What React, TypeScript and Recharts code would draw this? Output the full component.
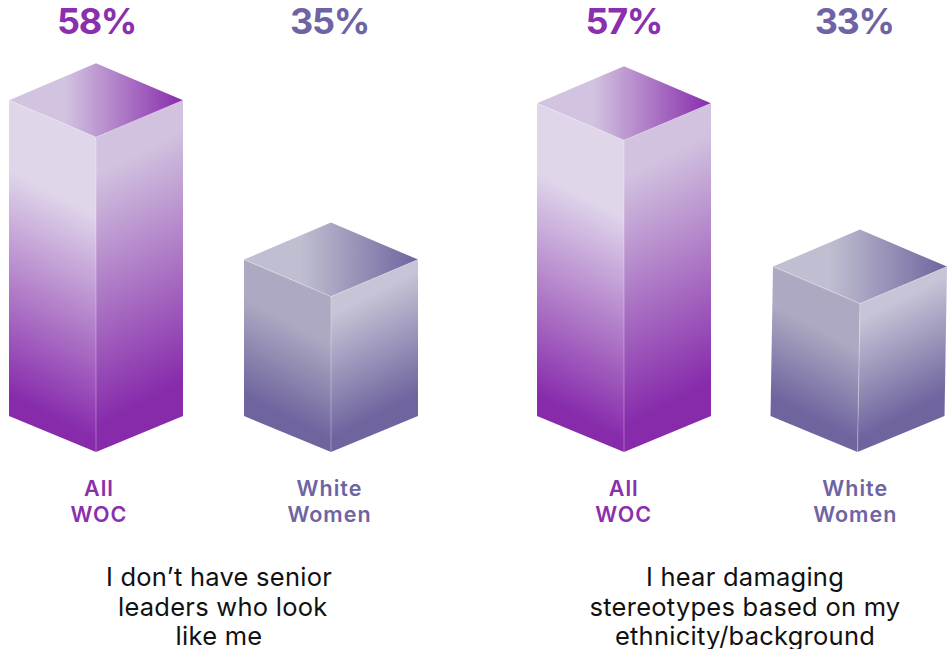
import { Bar, BarChart, XAxis, YAxis } from "recharts";

const categories = ["All\nWOC", "White\nWomen"];
const seniorLeaderValues = [58, 35];
const stereotypeValues = [57, 33];
const seniorLeaderCaption = ["I don’t have senior", "\u00a0leaders who look", "like me"];
const stereotypeCaption = ["I hear damaging", "stereotypes based on my", "ethnicity/background"];

// the source axis does not start at zero, these are fitted to the bar heights
const seniorLeaderDomain = [12.56, 70.59];
const stereotypeDomain = [11.2, 70.26];

const FONT = "Inter, sans-serif";
const RISE = 37;

const palette = [
  { text: "#8a2fae", top: "#d2c4e0", left: "#dfd6ea", right: "#d1c2df", deep: "#872bab", leftStart: 0.22, leftEnd: 0.94 },
  { text: "#6e64a3", top: "#c0bfd1", left: "#ada9c2", right: "#c6c4d6", deep: "#6f649e", leftStart: 0.25, leftEnd: 0.88 },
];

// gradient running across a face, with iso-lines of the given slope
function FaceGradient({ id, x, y, drop, slope, from, to }: any) {
  const k = drop / (1 + slope * slope);
  return (
    <linearGradient
      id={id}
      gradientUnits="userSpaceOnUse"
      x1={x}
      y1={y}
      x2={x - slope * k}
      y2={y + k}
    >
      <stop offset="0%" stopColor={from} />
      <stop offset="100%" stopColor={to} />
    </linearGradient>
  );
}

function Block({ x, y, width, height, index, chartId, lean }: any) {
  const c = palette[index];
  const id = `${chartId}-${index}`;
  const mid = x + width / 2;
  const right = x + width;
  const bottom = y + height;
  const shift = lean && lean[index] ? lean[index] : 0;
  const side = height - 1;
  const leftTop = y - RISE;
  return (
    <g>
      <defs>
        <FaceGradient
          id={`${id}-l`}
          x={x}
          y={leftTop + side * c.leftStart}
          drop={side * (c.leftEnd - c.leftStart)}
          slope={0.52}
          from={c.left}
          to={c.deep}
        />
        <FaceGradient
          id={`${id}-r`}
          x={mid}
          y={y + height * 0.12}
          drop={height * 0.8}
          slope={-0.52}
          from={c.right}
          to={c.deep}
        />
        <linearGradient id={`${id}-t`} x1="0" y1="0" x2="1" y2="0">
          <stop offset="32%" stopColor={c.top} />
          <stop offset="100%" stopColor={c.deep} />
        </linearGradient>
      </defs>
      <polygon
        points={`${x + shift},${y - RISE} ${mid + shift},${y} ${mid},${bottom} ${x},${bottom - RISE + 1}`}
        fill={`url(#${id}-l)`}
      />
      <polygon
        points={`${mid + shift},${y} ${right + shift},${y - RISE} ${right},${bottom - RISE + 1} ${mid},${bottom}`}
        fill={`url(#${id}-r)`}
      />
      <polygon
        points={`${x + shift},${y - RISE} ${mid + shift},${y - 2 * RISE} ${right + shift},${y - RISE} ${mid + shift},${y}`}
        fill={`url(#${id}-t)`}
      />
      <line x1={mid + shift} y1={y} x2={mid} y2={bottom} stroke="#fff" strokeOpacity={0.3} />
      <polyline
        points={`${x + shift},${y - RISE} ${mid + shift},${y} ${right + shift},${y - RISE}`}
        fill="none"
        stroke="#fff"
        strokeOpacity={0.3}
      />
    </g>
  );
}

function PercentTick({ x, y, payload, index, nudge }: any) {
  return (
    <text
      x={x + nudge[index]}
      y={y - 8}
      textAnchor="middle"
      fontFamily={FONT}
      fontWeight={700}
      fontSize={36}
      letterSpacing={-1.3}
      fill={palette[index].text}
    >
      {payload.value}%
    </text>
  );
}

function CategoryTick({ x, y, payload, index, nudge }: any) {
  const lines = String(payload.value).split("\n");
  return (
    <text
      textAnchor="middle"
      fontFamily={FONT}
      fontWeight={600}
      fontSize={21.5}
      letterSpacing={1}
      fill={palette[index].text}
    >
      {lines.map((line, i) => (
        <tspan key={line} x={x + nudge[index]} y={y + 35.7 + i * 26}>
          {line}
        </tspan>
      ))}
    </text>
  );
}

function Panel({ id, values, domain, left, width, pctNudge, catNudge, lean }: any) {
  const data = categories.map((category, i) => ({ category, value: values[i] }));
  return (
    <div style={{ position: "absolute", left, top: 0 }}>
      <BarChart width={width} height={532} data={data} margin={{ top: 0, right: 0, bottom: 0, left: 0 }}>
        <XAxis
          xAxisId="pct"
          orientation="top"
          dataKey="value"
          height={50}
          interval={0}
          axisLine={false}
          tickLine={false}
          tick={<PercentTick nudge={pctNudge} />}
        />
        <XAxis
          xAxisId="cat"
          dataKey="category"
          height={80}
          interval={0}
          axisLine={false}
          tickLine={false}
          tick={<CategoryTick nudge={catNudge} />}
        />
        <YAxis hide domain={domain} />
        <Bar
          xAxisId="cat"
          dataKey="value"
          barSize={174}
          isAnimationActive={false}
          shape={<Block chartId={id} lean={lean} />}
        />
      </BarChart>
    </div>
  );
}

function Caption({ lines, center }: any) {
  return (
    <div
      style={{
        position: "absolute",
        left: center - 200,
        top: 562,
        width: 400,
        textAlign: "center",
        fontFamily: FONT,
        fontSize: 25.5,
        lineHeight: "29.5px",
        letterSpacing: 0.25,
        color: "#111",
        whiteSpace: "pre",
      }}
    >
      {lines.map((line: string) => (
        <div key={line}>{line}</div>
      ))}
    </div>
  );
}

export default function App() {
  return (
    <div
      style={{
        position: "absolute",
        left: 0,
        top: 0,
        width: 948,
        height: 649,
        overflow: "hidden",
        background: "#fff",
      }}
    >
      <Panel
        id="leaders"
        values={seniorLeaderValues}
        domain={seniorLeaderDomain}
        left={-22.5}
        width={470}
        pctNudge={[1, -1]}
        catNudge={[3.5, -1]}
      />
      <Panel
        id="stereotypes"
        values={stereotypeValues}
        domain={stereotypeDomain}
        left={507}
        width={467}
        pctNudge={[0, -3]}
        catNudge={[0, -2]}
        lean={[0, 2.5]}
      />
      <Caption lines={seniorLeaderCaption} center={219} />
      <Caption lines={stereotypeCaption} center={745} />
    </div>
  );
}
